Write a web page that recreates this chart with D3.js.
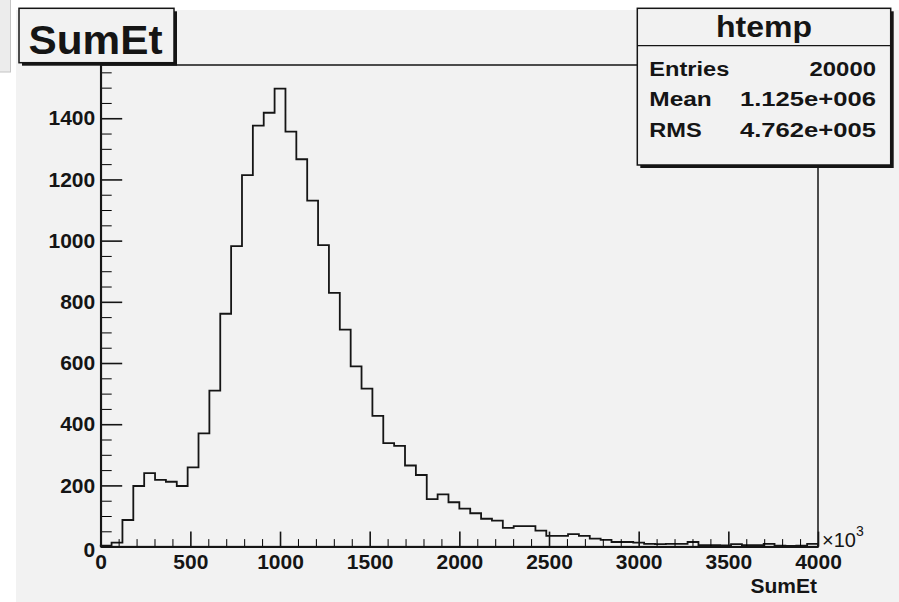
<!DOCTYPE html>
<html>
<head>
<meta charset="utf-8">
<script src="https://cdn.jsdelivr.net/npm/d3@7"></script>
<style>
  body { margin: 0; background: #fff; }
  svg { display: block; font-family: "Liberation Sans", Arial, sans-serif; }
</style>
</head>
<body>
<svg id="plot" width="899" height="602"></svg>
<script>
// histogram SumEt (x in units of 10^3), 66 bins over [0, 4000]
const binCounts = [3, 13, 87, 198, 240, 218, 212, 198, 259, 370,
  510, 761, 982, 1214, 1376, 1418, 1497, 1356, 1266, 1131,
  985, 829, 709, 589, 516, 427, 338, 329, 265, 234,
  155, 171, 145, 124, 109, 91, 85, 61, 67, 67,
  52, 35, 35, 41, 35, 26, 22, 15, 15, 13,
  9, 8, 9, 9, 15, 5, 5, 4, 8, 5,
  5, 9, 3, 2, 3, 9];
const xRange = [0, 4000];
const yMax = 1574;
const xTicks = [0, 500, 1000, 1500, 2000, 2500, 3000, 3500, 4000];
const yTicks = [0, 200, 400, 600, 800, 1000, 1200, 1400];
const statLabels = ['Entries', 'Mean', 'RMS'];
const statValues = ['20000', '1.125e+006', '4.762e+005'];
const histName = 'htemp';
const title = 'SumEt';

d3.select(window).on('load', init);

function init() {
  const svg = d3.select('#plot');
  const bg = '#f2f2f2';
  const ink = '#151515';
  const fmt = d3.format('d');

  // canvas
  svg.append('rect').attr('x', 16).attr('y', 10).attr('width', 883).attr('height', 592).attr('fill', bg);
  svg.append('rect').attr('x', -1).attr('y', -1).attr('width', 11.5).attr('height', 73)
    .attr('fill', '#ececec').attr('stroke', '#c4c4c4');

  const frame = {left: 100.7, right: 818, top: 65, bottom: 546.6};

  const xScale = d3.scaleLinear().domain(xRange).range([frame.left, frame.right]);
  const yScale = d3.scaleLinear().domain([0, yMax]).range([frame.bottom, frame.top]);

  // frame
  svg.append('rect')
    .attr('x', frame.left).attr('y', frame.top)
    .attr('width', frame.right - frame.left).attr('height', frame.bottom - frame.top)
    .attr('fill', bg).attr('stroke', ink).attr('stroke-width', 1.5);

  // histogram outline
  const n = binCounts.length;
  const w = (xRange[1] - xRange[0]) / n;
  const pts = [[xRange[0], 0]];
  binCounts.forEach((c, i) => {
    pts.push([xRange[0] + i * w, c]);
    pts.push([xRange[0] + (i + 1) * w, c]);
  });
  pts.push([xRange[1], 0]);

  const line = d3.line().x(d => xScale(d[0])).y(d => yScale(d[1]));
  svg.append('path')
    .attr('d', line(pts))
    .attr('fill', 'none')
    .attr('stroke', ink)
    .attr('stroke-width', 1.8);

  // x axis: minor ticks then major ticks
  const xMinor = d3.range(0, 4001, 100).filter(v => v % 500 !== 0);
  svg.append('g')
    .attr('transform', 'translate(0,' + frame.bottom + ')')
    .call(d3.axisBottom(xScale).tickValues(xMinor).tickSize(-7.5).tickSizeOuter(0).tickFormat(''))
    .call(g => g.select('.domain').remove());
  const gx = svg.append('g')
    .attr('transform', 'translate(0,' + frame.bottom + ')')
    .call(d3.axisBottom(xScale).tickValues(xTicks).tickSize(-15).tickSizeOuter(0)
      .tickPadding(7.5).tickFormat(fmt));

  // y axis
  const yMinor = d3.range(0, yMax, 50).filter(v => v % 200 !== 0);
  svg.append('g')
    .attr('transform', 'translate(' + frame.left + ',0)')
    .call(d3.axisLeft(yScale).tickValues(yMinor).tickSize(-11).tickSizeOuter(0).tickFormat(''))
    .call(g => g.select('.domain').remove());
  const gy = svg.append('g')
    .attr('transform', 'translate(' + frame.left + ',0)')
    .call(d3.axisLeft(yScale).tickValues(yTicks).tickSize(-21.5).tickSizeOuter(0)
      .tickPadding(5.5).tickFormat(fmt));

  [gx, gy].forEach(g => {
    g.selectAll('line').attr('stroke', ink).attr('stroke-width', 1.6);
    g.select('.domain').attr('stroke', ink).attr('stroke-width', 1.8);
    g.selectAll('text').attr('fill', ink).attr('font-size', 21).attr('font-weight', 'bold')
      .attr('font-family', '"Liberation Sans", Arial, sans-serif');
  });
  gy.selectAll('text').filter(d => d === 0).attr('dy', '0.45em');

  // axis title and exponent
  svg.append('text')
    .attr('x', frame.right - 1).attr('y', 593)
    .attr('text-anchor', 'end').attr('font-size', 21).attr('font-weight', 'bold')
    .attr('fill', ink).text(title);
  const expo = svg.append('text')
    .attr('x', 822).attr('y', 547)
    .attr('font-size', 20).attr('fill', ink);
  expo.append('tspan').text('\u00d710');
  expo.append('tspan').attr('font-size', 14).attr('dy', -11).text('3');

  // title box
  const tb = {x: 19, y: 8.3, w: 155, h: 54.4};
  svg.append('rect').attr('x', tb.x + 3).attr('y', tb.y + 3).attr('width', tb.w).attr('height', tb.h).attr('fill', ink);
  svg.append('rect').attr('x', tb.x).attr('y', tb.y).attr('width', tb.w).attr('height', tb.h)
    .attr('fill', bg).attr('stroke', ink).attr('stroke-width', 1.5);
  svg.append('text')
    .attr('x', tb.x + tb.w / 2 - 1).attr('y', 54)
    .attr('text-anchor', 'middle').attr('font-size', 40).attr('font-weight', 'bold')
    .attr('textLength', 134).attr('lengthAdjust', 'spacingAndGlyphs')
    .attr('fill', ink).text(title);

  // stats box
  const sb = {x: 637.3, y: 8.3, w: 253.4, h: 156.7};
  svg.append('rect').attr('x', sb.x + 3).attr('y', sb.y + 3).attr('width', sb.w).attr('height', sb.h).attr('fill', ink);
  svg.append('rect').attr('x', sb.x).attr('y', sb.y).attr('width', sb.w).attr('height', sb.h)
    .attr('fill', bg).attr('stroke', ink).attr('stroke-width', 1.5);
  svg.append('line').attr('x1', sb.x).attr('x2', sb.x + sb.w).attr('y1', 45.7).attr('y2', 45.7)
    .attr('stroke', ink).attr('stroke-width', 1.3);
  svg.append('text')
    .attr('x', sb.x + sb.w / 2).attr('y', 36.7)
    .attr('text-anchor', 'middle').attr('font-size', 29).attr('font-weight', 'bold')
    .attr('textLength', 96).attr('lengthAdjust', 'spacingAndGlyphs')
    .attr('fill', ink).text(histName);

  const rowY = [76, 106, 136.7];
  const labelLen = [80, 62.5, 52.5];
  const valueLen = [66.5, 136, 136];
  statLabels.forEach((s, i) => {
    svg.append('text')
      .attr('x', 649.3).attr('y', rowY[i])
      .attr('font-size', 20).attr('font-weight', 'bold')
      .attr('textLength', labelLen[i]).attr('lengthAdjust', 'spacingAndGlyphs')
      .attr('fill', ink).text(s);
    svg.append('text')
      .attr('x', 876).attr('y', rowY[i])
      .attr('text-anchor', 'end').attr('font-size', 20).attr('font-weight', 'bold')
      .attr('textLength', valueLen[i]).attr('lengthAdjust', 'spacingAndGlyphs')
      .attr('fill', ink).text(statValues[i]);
  });
}
</script>
</body>
</html>
